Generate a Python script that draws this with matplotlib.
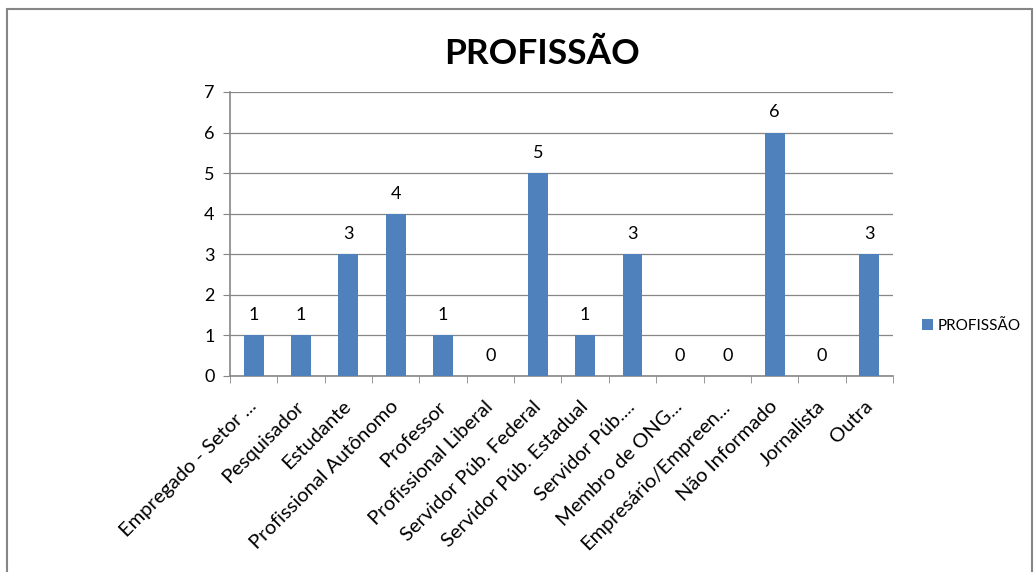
import matplotlib.pyplot as plt
import numpy as np
from matplotlib.patches import Rectangle

categorias = [
    "Empregado - Setor ...", "Pesquisador", "Estudante", "Profissional Autônomo",
    "Professor", "Profissional Liberal", "Servidor Púb. Federal",
    "Servidor Púb. Estadual", "Servidor Púb....", "Membro de ONG...",
    "Empresário/Empreen...", "Não Informado", "Jornalista", "Outra",
]
valores = [1, 1, 3, 4, 1, 0, 5, 1, 3, 0, 0, 6, 0, 3]
serie = "PROFISSÃO"

plt.rcParams["font.family"] = ["Lato", "DejaVu Sans"]
cor_barra = "#4F81BD"
cinza = "#868686"

fig = plt.figure(figsize=(10.35, 5.72), dpi=100)
fig.patches.append(Rectangle((0.007, -0.01), 0.99, 0.995, transform=fig.transFigure,
                             fill=False, edgecolor=cinza, linewidth=1.5))

ax = fig.add_axes([0.2222, 0.3427, 0.6406, 0.4965])
x = np.arange(len(categorias))
bars = ax.bar(x, valores, width=0.42, color=cor_barra, label=serie, zorder=3)
for xi, v in zip(x, valores):
    ax.text(xi, v + 0.3, str(v), ha="center", va="bottom", fontsize=13, color="black")

ax.set_xlim(-0.5, len(categorias) - 0.5)
ax.set_ylim(0, 7)
ax.set_yticks(range(8))
ax.tick_params(axis="y", labelsize=13, length=5, color=cinza, pad=6)
ax.grid(axis="y", color=cinza, linewidth=0.9, zorder=0)

ax.set_xticks(x)
ax.set_xticklabels(categorias, rotation=45, ha="right", va="center",
                   rotation_mode="anchor", fontsize=14.5)
ax.tick_params(axis="x", length=0, pad=20)
ax.set_xticks(np.arange(-0.5, len(categorias)), minor=True)
ax.tick_params(axis="x", which="minor", length=5, color=cinza)

for s in ["top", "right"]:
    ax.spines[s].set_visible(False)
for s in ["left", "bottom"]:
    ax.spines[s].set_color(cinza)
    ax.spines[s].set_linewidth(1.2)

fig.text(0.5235, 0.905, "PROFISSÃO", ha="center", va="center", fontsize=25.5, fontweight="bold")
fig.legend(handles=[bars], labels=[serie], loc="center left", bbox_to_anchor=(0.878, 0.43),
           frameon=False, fontsize=11, handlelength=0.7, handleheight=0.7, handletextpad=0.3)

fig.savefig("out.png", dpi=100)
